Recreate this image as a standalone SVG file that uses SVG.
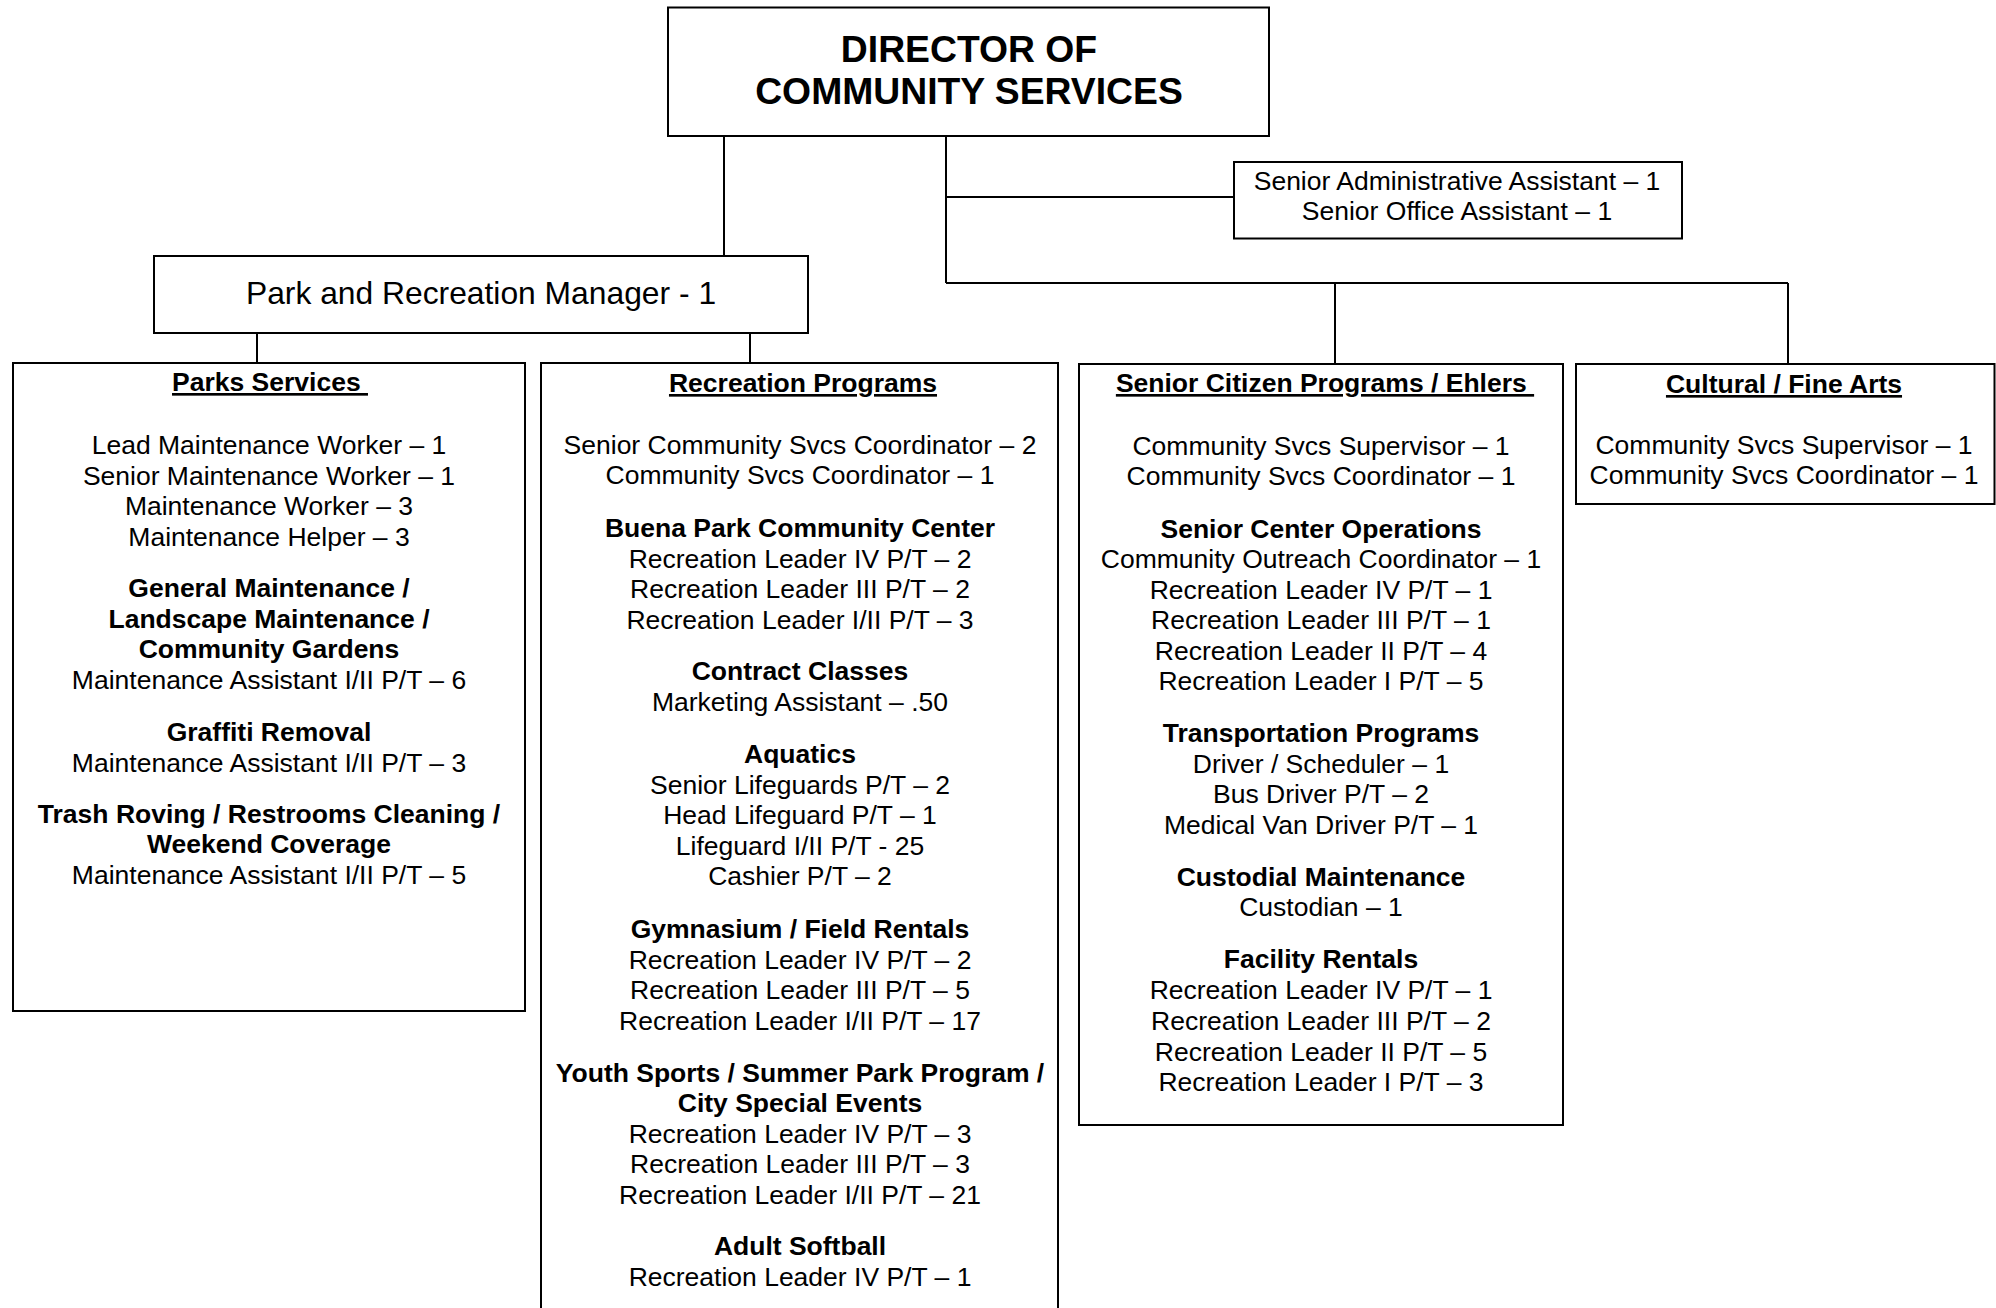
<svg xmlns="http://www.w3.org/2000/svg" width="1996" height="1308" viewBox="0 0 1996 1308">
<style>
.box{fill:#fff;stroke:#000;stroke-width:2}
.c{fill:none;stroke:#000;stroke-width:2}
text{font-family:"Liberation Sans",Arial,sans-serif;fill:#000;text-anchor:middle}
.t{font-size:26.5px}
.b{font-size:26.5px;font-weight:bold}
.h{font-size:26.5px;font-weight:bold;text-decoration:underline;white-space:pre}
</style>
<rect width="1996" height="1308" fill="#fff"/>
<g id="connectors">
<path class="c" d="M724 136V256"/>
<path class="c" d="M946 136V283"/>
<path class="c" d="M946 197H1234"/>
<path class="c" d="M946 283H1788"/>
<path class="c" d="M1335 283V364"/>
<path class="c" d="M1788 283V364"/>
<path class="c" d="M257 333V363"/>
<path class="c" d="M750 333V363"/>
</g>
<g id="director">
<rect class="box" x="668" y="7.5" width="601" height="128.5"/>
<text x="969" y="61.5" style="font-size:37.3px;font-weight:bold">DIRECTOR OF</text>
<text x="969" y="103.5" style="font-size:37.3px;font-weight:bold">COMMUNITY SERVICES</text>
</g>
<g id="admin">
<rect class="box" x="1234" y="162" width="448" height="76.5"/>
<text class="t" x="1457" y="190">Senior Administrative Assistant – 1</text>
<text class="t" x="1457" y="220">Senior Office Assistant – 1</text>
</g>
<g id="manager">
<rect class="box" x="154" y="256" width="654" height="77"/>
<text x="481" y="303.5" style="font-size:31.8px">Park and Recreation Manager - 1</text>
</g>
<g id="parks">
<rect class="box" x="13" y="363" width="512" height="648"/>
<text class="h" x="270" y="391" xml:space="preserve">Parks Services </text>
<text class="t" x="269" y="454">Lead Maintenance Worker – 1</text>
<text class="t" x="269" y="484.5">Senior Maintenance Worker – 1</text>
<text class="t" x="269" y="515">Maintenance Worker – 3</text>
<text class="t" x="269" y="545.5">Maintenance Helper – 3</text>
<text class="b" x="269" y="597">General Maintenance /</text>
<text class="b" x="269" y="627.5">Landscape Maintenance /</text>
<text class="b" x="269" y="658">Community Gardens</text>
<text class="t" x="269" y="689">Maintenance Assistant I/II P/T – 6</text>
<text class="b" x="269" y="741">Graffiti Removal</text>
<text class="t" x="269" y="771.5">Maintenance Assistant I/II P/T – 3</text>
<text class="b" x="269" y="822.5">Trash Roving / Restrooms Cleaning /</text>
<text class="b" x="269" y="853">Weekend Coverage</text>
<text class="t" x="269" y="884">Maintenance Assistant I/II P/T – 5</text>
</g>
<g id="recreation">
<rect class="box" x="541" y="363" width="517" height="960"/>
<text class="h" x="803" y="392">Recreation Programs</text>
<text class="t" x="800" y="453.5">Senior Community Svcs Coordinator – 2</text>
<text class="t" x="800" y="484">Community Svcs Coordinator – 1</text>
<text class="b" x="800" y="536.5">Buena Park Community Center</text>
<text class="t" x="800" y="567.5">Recreation Leader IV P/T – 2</text>
<text class="t" x="800" y="598">Recreation Leader III P/T – 2</text>
<text class="t" x="800" y="628.5">Recreation Leader I/II P/T – 3</text>
<text class="b" x="800" y="680">Contract Classes</text>
<text class="t" x="800" y="710.5">Marketing Assistant – .50</text>
<text class="b" x="800" y="762.5">Aquatics</text>
<text class="t" x="800" y="793.5">Senior Lifeguards P/T – 2</text>
<text class="t" x="800" y="824">Head Lifeguard P/T – 1</text>
<text class="t" x="800" y="854.5">Lifeguard I/II P/T - 25</text>
<text class="t" x="800" y="885">Cashier P/T – 2</text>
<text class="b" x="800" y="937.5">Gymnasium / Field Rentals</text>
<text class="t" x="800" y="968.5">Recreation Leader IV P/T – 2</text>
<text class="t" x="800" y="999">Recreation Leader III P/T – 5</text>
<text class="t" x="800" y="1029.5">Recreation Leader I/II P/T – 17</text>
<text class="b" x="800" y="1081.5">Youth Sports / Summer Park Program /</text>
<text class="b" x="800" y="1111.5">City Special Events</text>
<text class="t" x="800" y="1142.5">Recreation Leader IV P/T – 3</text>
<text class="t" x="800" y="1173">Recreation Leader III P/T – 3</text>
<text class="t" x="800" y="1204">Recreation Leader I/II P/T – 21</text>
<text class="b" x="800" y="1255">Adult Softball</text>
<text class="t" x="800" y="1286">Recreation Leader IV P/T – 1</text>
</g>
<g id="senior">
<rect class="box" x="1079" y="364" width="484" height="761"/>
<text class="h" x="1325" y="392" xml:space="preserve">Senior Citizen Programs / Ehlers </text>
<text class="t" x="1321" y="454.5">Community Svcs Supervisor – 1</text>
<text class="t" x="1321" y="485">Community Svcs Coordinator – 1</text>
<text class="b" x="1321" y="537.5">Senior Center Operations</text>
<text class="t" x="1321" y="568">Community Outreach Coordinator – 1</text>
<text class="t" x="1321" y="598.5">Recreation Leader IV P/T – 1</text>
<text class="t" x="1321" y="629">Recreation Leader III P/T – 1</text>
<text class="t" x="1321" y="659.5">Recreation Leader II P/T – 4</text>
<text class="t" x="1321" y="690">Recreation Leader I P/T – 5</text>
<text class="b" x="1321" y="742">Transportation Programs</text>
<text class="t" x="1321" y="772.5">Driver / Scheduler – 1</text>
<text class="t" x="1321" y="803">Bus Driver P/T – 2</text>
<text class="t" x="1321" y="833.5">Medical Van Driver P/T – 1</text>
<text class="b" x="1321" y="885.5">Custodial Maintenance</text>
<text class="t" x="1321" y="916">Custodian – 1</text>
<text class="b" x="1321" y="968">Facility Rentals</text>
<text class="t" x="1321" y="999">Recreation Leader IV P/T – 1</text>
<text class="t" x="1321" y="1030">Recreation Leader III P/T – 2</text>
<text class="t" x="1321" y="1060.5">Recreation Leader II P/T – 5</text>
<text class="t" x="1321" y="1091">Recreation Leader I P/T – 3</text>
</g>
<g id="cultural">
<rect class="box" x="1576" y="364" width="418.5" height="140"/>
<text class="h" x="1784" y="393">Cultural / Fine Arts</text>
<text class="t" x="1784" y="453.5">Community Svcs Supervisor – 1</text>
<text class="t" x="1784" y="484">Community Svcs Coordinator – 1</text>
</g>
</svg>
